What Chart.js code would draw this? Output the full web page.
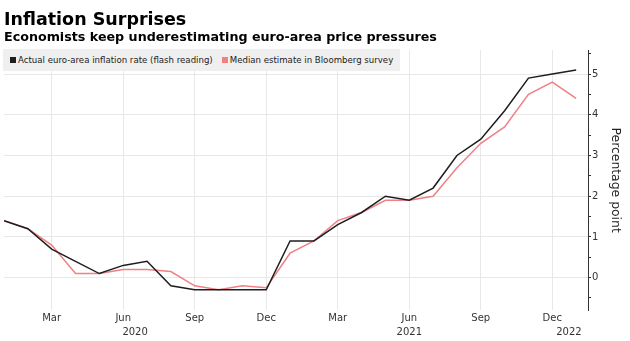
<!DOCTYPE html>
<html>
<head>
<meta charset="utf-8">
<script src="https://cdn.jsdelivr.net/npm/chart.js@4.4.1/dist/chart.umd.min.js"></script>
<style>
    html, body { margin: 0; padding: 0; background: #fff; }
    #wrap { position: relative; width: 630px; height: 341px; }
    #legend {
        position: absolute; left: 3px; top: 49px; width: 397px; height: 22px;
        box-sizing: border-box; padding-left: 7px; background: #efefef;
        display: flex; align-items: center; white-space: nowrap;
        font-family: "DejaVu Sans"; font-size: 8.6px; color: #222;
    }
    #legend .item { display: flex; align-items: center; margin-right: 9px; }
    #legend .sw { display: inline-block; width: 6px; height: 6px; margin-right: 2px; }
</style>
</head>
<body>
<div id="wrap">
    <canvas id="myChart" width="630" height="341"></canvas>
    <div id="legend"></div>
</div>
<script>
// monthly data, Jan 2020 .. Jan 2022
var months = ["2020-01", "2020-02", "2020-03", "2020-04", "2020-05", "2020-06", "2020-07", "2020-08", "2020-09", "2020-10", "2020-11", "2020-12",
              "2021-01", "2021-02", "2021-03", "2021-04", "2021-05", "2021-06", "2021-07", "2021-08", "2021-09", "2021-10", "2021-11", "2021-12",
              "2022-01"];
var actual = [1.4, 1.2, 0.7, 0.4, 0.1, 0.3, 0.4, -0.2, -0.3, -0.3, -0.3, -0.3,
              0.9, 0.9, 1.3, 1.6, 2.0, 1.9, 2.2, 3.0, 3.4, 4.1, 4.9, 5.0, 5.1];
var estimate = [1.4, 1.2, 0.8, 0.1, 0.1, 0.2, 0.2, 0.15, -0.2, -0.3, -0.2, -0.25,
                0.6, 0.9, 1.4, 1.6, 1.9, 1.9, 2.0, 2.7, 3.3, 3.7, 4.5, 4.8, 4.4];
var seriesNames = ["Actual euro-area inflation rate (flash reading)", "Median estimate in Bloomberg survey"];
var seriesColors = ["#1e1e1e", "#ef8084"];

var monthNames = ["Jan", "Feb", "Mar", "Apr", "May", "Jun", "Jul", "Aug", "Sep", "Oct", "Nov", "Dec"];
var tickMonths = ["Mar", "Jun", "Sep", "Dec"];
var yearLabels = ["2020", "2021", "2022"];
var yTickValues = [-0.5, 0, 0.5, 1, 1.5, 2, 2.5, 3, 3.5, 4, 4.5, 5, 5.5];

Chart.defaults.font.family = "DejaVu Sans";

const monthOf = (i) => monthNames[parseInt(months[i].slice(5), 10) - 1];
const yearOf = (i) => months[i].slice(0, 4);
const isQuarter = (v) => Number.isInteger(v) && v >= 0 && v < months.length && tickMonths.indexOf(monthOf(v)) >= 0;

// x ticks: quarter months on the first line, years on the second
var xLabels = {};
months.forEach((m, i) => {
    if (isQuarter(i)) xLabels[i] = [monthOf(i), ""];
});
// where each year label sits (months index), nudged like the original
var yearSpot = { "2020": months.indexOf("2020-06") + 0.5, "2021": months.indexOf("2021-06"), "2022": months.length - 1.3 };
yearLabels.forEach((y) => {
    var p = yearSpot[y];
    if (xLabels[p]) xLabels[p][1] = y;
    else xLabels[p] = ["", y];
});
var xTickValues = Object.keys(xLabels).map(Number).sort((a, b) => a - b);

var toPoints = (arr) => arr.map((v, i) => ({ x: i, y: v }));

const drawChart = () => {
    new Chart("myChart", {
        type: "line",
        data: {
            datasets: [{
                label: seriesNames[0],
                data: toPoints(actual),
                borderColor: seriesColors[0],
                borderWidth: 1.5,
                pointRadius: 0,
                tension: 0
            }, {
                label: seriesNames[1],
                data: toPoints(estimate),
                borderColor: seriesColors[1],
                borderWidth: 1.5,
                pointRadius: 0,
                tension: 0
            }]
        },
        options: {
            responsive: false,
            animation: false,
            devicePixelRatio: 1,
            layout: { padding: { left: 4, right: 0, top: 0, bottom: 0 } },
            plugins: {
                legend: { display: false },
                tooltip: { enabled: false },
                title: {
                    display: true,
                    text: "Inflation Surprises",
                    align: "start",
                    color: "#000",
                    font: { size: 17.5, weight: "bold", lineHeight: 1.2 },
                    padding: { top: 9.5, bottom: 0 }
                },
                subtitle: {
                    display: true,
                    text: "Economists keep underestimating euro-area price pressures",
                    align: "start",
                    color: "#000",
                    font: { size: 12.7, weight: "bold", lineHeight: 1.2 },
                    padding: { top: 0, bottom: 4.3 }
                }
            },
            scales: {
                x: {
                    type: "linear",
                    min: 0,
                    max: 24.5,
                    afterBuildTicks: (scale) => { scale.ticks = xTickValues.map(v => ({ value: v })); },
                    ticks: {
                        autoSkip: false,
                        maxRotation: 0,
                        color: "#333",
                        padding: 2,
                        font: { size: 10, lineHeight: 1.34 },
                        callback: (v) => xLabels[v] || ""
                    },
                    grid: {
                        drawTicks: false,
                        color: (ctx) => isQuarter(ctx.tick && ctx.tick.value) ? "#e8e8e8" : "rgba(0,0,0,0)"
                    },
                    border: { display: false }
                },
                y: {
                    position: "right",
                    min: -0.8,
                    max: 5.59,
                    afterBuildTicks: (scale) => { scale.ticks = yTickValues.map(v => ({ value: v })); },
                    ticks: {
                        color: "#333",
                        padding: 1,
                        font: { size: 10 },
                        callback: (v) => Number.isInteger(v) ? String(v) : ""
                    },
                    grid: {
                        tickLength: 3,
                        tickColor: "#333",
                        color: (ctx) => Number.isInteger(ctx.tick && ctx.tick.value) ? "#e8e8e8" : "rgba(0,0,0,0)"
                    },
                    border: { display: true, color: "#333", width: 1 },
                    title: {
                        display: true,
                        text: "Percentage point",
                        color: "#222",
                        font: { size: 12.4, lineHeight: 1.2 },
                        padding: { top: 7, bottom: 8.7 }
                    }
                }
            }
        }
    });
};

// make sure the bold face is ready before the canvas text is drawn
if (document.fonts && document.fonts.load) {
    Promise.all([
        document.fonts.load('bold 17px "DejaVu Sans"'),
        document.fonts.load('10px "DejaVu Sans"')
    ]).then(drawChart, drawChart);
} else {
    drawChart();
}

// legend box drawn over the top of the plot, like the original
var legendEl = document.getElementById("legend");
seriesNames.forEach((name, i) => {
    var item = document.createElement("div");
    item.className = "item";
    item.innerHTML = '<span class="sw" style="background:' + seriesColors[i] + '"></span><span>' + name + '</span>';
    legendEl.appendChild(item);
});
</script>
</body>
</html>
